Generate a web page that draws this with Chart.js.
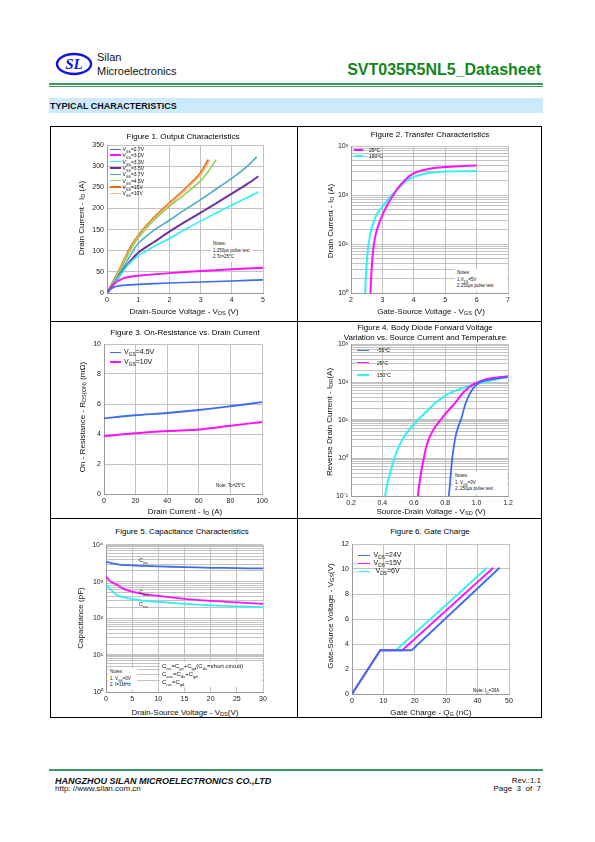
<!DOCTYPE html>
<html>
<head>
<meta charset="utf-8">
<script src="https://cdn.jsdelivr.net/npm/chart.js@4.4.1/dist/chart.umd.min.js"></script>
<style>
body{margin:0;background:#fff;font-family:"Liberation Sans",Arial,sans-serif;color:#111;}
#page{position:relative;width:595px;height:842px;overflow:hidden;background:#fff;}
.a{position:absolute;white-space:nowrap;}
canvas{position:absolute;}
.c{transform:translate(-50%,-50%);}
.ttl{font-size:8px;color:#000;}
.yt{font-size:8px;color:#111;transform:translate(-50%,-50%) rotate(-90deg);}
.xt{font-size:8px;color:#111;}
sub{font-size:70%;vertical-align:-1.5px;line-height:0;}
.note{font-size:4.5px;line-height:6.5px;background:#fff;padding:1px 2px;}
.ln{position:absolute;background:#000;}
</style>
</head>
<body>
<div id="page">
  <!-- header -->
  <svg class="a" style="left:55px;top:52px" width="40" height="25">
    <ellipse cx="19" cy="12" rx="17" ry="10" fill="none" stroke="#1010e8" stroke-width="2.4"/>
    <text x="19" y="17" text-anchor="middle" font-family="Liberation Serif" font-style="italic" font-weight="bold" font-size="15" fill="#1010e8">SL</text>
  </svg>
  <div class="a" style="left:97px;top:51px;font-size:11px">Silan</div>
  <div class="a" style="left:97px;top:65px;font-size:11px">Microelectronics</div>
  <div class="a" style="right:54px;top:61px;font-size:16px;font-weight:bold;color:#13861d">SVT035R5NL5_Datasheet</div>
  <div class="ln" style="left:49px;top:83px;width:494px;height:1.5px;background:#3a9a5e"></div>
  <div class="ln" style="left:49px;top:86px;width:494px;height:1px;background:#3a9a5e"></div>
  <div class="a" style="left:49px;top:98px;width:494px;height:15px;background:#cdeafd"></div>
  <div class="a" style="left:50px;top:101px;font-size:9px;font-weight:bold">TYPICAL CHARACTERISTICS</div>

  <!-- table -->
  <div class="a" style="left:50px;top:126px;width:490px;height:590px;border:1px solid #000"></div>
  <div class="ln" style="left:297px;top:126px;width:1px;height:591px"></div>
  <div class="ln" style="left:50px;top:321px;width:491px;height:1px"></div>
  <div class="ln" style="left:50px;top:518px;width:491px;height:1px"></div>

  <canvas id="f1"></canvas><canvas id="f2"></canvas><canvas id="f3"></canvas>
  <canvas id="f4"></canvas><canvas id="f5"></canvas><canvas id="f6"></canvas>

  <!-- titles -->
  <div class="a c ttl" style="left:183px;top:136px">Figure 1. Output Characteristics</div>
  <div class="a c ttl" style="left:430px;top:134px">Figure 2. Transfer Characteristics</div>
  <div class="a c ttl" style="left:185px;top:332px">Figure 3. On-Resistance vs. Drain Current</div>
  <div class="a c ttl" style="left:425px;top:327px">Figure 4. Body Diode Forward Voltage</div>
  <div class="a c ttl" style="left:425px;top:337px">Variation vs. Source Current and Temperature</div>
  <div class="a c ttl" style="left:182px;top:531px">Figure 5. Capacitance Characteristics</div>
  <div class="a c ttl" style="left:430px;top:531px">Figure 6. Gate Charge</div>

  <!-- axis titles -->
  <div class="a c xt" style="left:184px;top:311px">Drain-Source Voltage - V<sub>DS</sub> (V)</div>
  <div class="a yt" style="left:81px;top:218px">Drain Current - I<sub>D</sub> (A)</div>
  <div class="a c xt" style="left:431px;top:311px">Gate-Source Voltage - V<sub>GS</sub> (V)</div>
  <div class="a yt" style="left:330px;top:221px">Drain Current - I<sub>D</sub> (A)</div>
  <div class="a c xt" style="left:185px;top:511px">Drain Current - I<sub>D</sub> (A)</div>
  <div class="a yt" style="left:82px;top:417px">On - Resistance - R<sub>DS(ON)</sub> (mΩ)</div>
  <div class="a c xt" style="left:431px;top:511px">Source-Drain Voltage - V<sub>SD</sub> (V)</div>
  <div class="a yt" style="left:329px;top:422px">Reverse Drain Current - I<sub>DR</sub>(A)</div>
  <div class="a c xt" style="left:185px;top:712px">Drain-Source Voltage - V<sub>DS</sub>(V)</div>
  <div class="a yt" style="left:80px;top:618px">Capacitance (pF)</div>
  <div class="a c xt" style="left:431px;top:712px">Gate Charge - Q<sub>G</sub> (nC)</div>
  <div class="a yt" style="left:330px;top:616px">Gate-Source Voltage - V<sub>GS</sub>(V)</div>

  <!-- notes -->
  <div class="a note" style="left:211px;top:240px">Notes:<br>1.250μs pulse test<br>2.Tc=25°C</div>
  <div class="a note" style="left:455px;top:269px;width:48px">Notes:<br>1.V<sub>DS</sub>=5V<br>2.250μs pulse test</div>
  <div class="a note" style="left:214px;top:482px;background:none">Note: Tc=25°C</div>
  <div class="a note" style="left:453px;top:472px;width:50px">Notes:<br>1. V<sub>GS</sub>=0V<br>2. 250μs pulse test</div>
  <div class="a note" style="left:108px;top:668px;width:25px">Notes:<br>1. V<sub>GS</sub>=0V<br>2. f=1MHz</div>
  <div class="a" style="left:160px;top:662px;width:100px;font-size:6px;line-height:8.2px;background:#fff;padding-left:2px">C<sub>iss</sub>=C<sub>gs</sub>+C<sub>gd</sub>(C<sub>ds</sub>=short circuit)<br>C<sub>oss</sub>=C<sub>ds</sub>+C<sub>gd</sub><br>C<sub>rss</sub>=C<sub>gd</sub></div>
  <div class="a note" style="left:471px;top:687px;background:none">Note: I<sub>D</sub>=30A</div>
  <div class="a" style="left:139px;top:557px;font-size:5.5px">C<sub>iss</sub></div>
  <div class="a" style="left:139px;top:589px;font-size:5.5px">C<sub>oss</sub></div>
  <div class="a" style="left:139px;top:601px;font-size:5.5px">C<sub>rss</sub></div>

  <div id="legends"></div>

  <!-- footer -->
  <div class="ln" style="left:49px;top:769px;width:494px;height:1.5px;background:#3a9a5e"></div>
  <div class="a" style="left:55px;top:776px;font-size:9px;font-weight:bold;font-style:italic">HANGZHOU SILAN MICROELECTRONICS CO.,LTD</div>
  <div class="a" style="left:55px;top:784px;font-size:8px">http: //www.silan.com.cn</div>
  <div class="a" style="right:54px;top:776px;font-size:8px;text-align:right">Rev.:1.1</div>
  <div class="a" style="right:54px;top:784px;font-size:8px;text-align:right">Page &nbsp;3 &nbsp;of &nbsp;7</div>
</div>

<script>
// ---- Figure 1 : output characteristics  [Vds, Id]
const vgs27 = [[0,0],[0.1,8],[0.2,13],[0.3,16],[0.5,18],[1,20.5],[2,23.5],[3,26],[4,28.5],[5,31]];
const vgs30 = [[0,0],[0.1,10],[0.2,19],[0.3,26],[0.5,34],[0.7,38],[1,41],[2,47],[3,52],[4,56],[5,60]];
const vgs33 = [[0,0],[0.3,30],[0.6,60],[0.8,76],[1,88],[1.2,97],[1.5,110],[2,129],[2.5,150],[3,170],[3.5,189],[4,208],[4.5,226],[4.85,239]];
const vgs35 = [[0,0],[0.3,30],[0.6,62],[0.8,80],[1,95],[1.2,106],[1.5,120],[2,145],[2.5,168],[3,190],[3.5,212],[4,235],[4.5,258],[4.85,276]];
const vgs37 = [[0,0],[0.3,33],[0.6,70],[0.8,95],[1,117],[1.5,148],[2,172],[2.5,197],[3,221],[3.5,246],[4,271],[4.5,300],[4.8,322]];
const vgs45 = [[0,0],[0.3,38],[0.6,80],[0.8,108],[1,130],[1.5,172],[2,205],[2.5,234],[3,265],[3.25,288],[3.5,315]];
const vgs15 = [[0,0],[0.3,40],[0.6,85],[0.8,113],[1,135],[1.5,177],[2,212],[2.5,245],[3,283],[3.25,315]];
const vgs10 = [[0,0],[0.3,39],[0.6,83],[0.8,111],[1,133],[1.5,175],[2,210],[2.5,243],[3,280],[3.3,316]];
const fig1Labels = ['2.7V','3.0V','3.3V','3.5V','3.7V','4.5V','15V','10V'];

// ---- Figure 2 : transfer characteristics  [Vgs, Id]
const tr25 = [[2.62,1],[2.64,2],[2.67,4],[2.7,7],[2.75,12],[2.8,17],[2.9,27],[3,39],[3.1,53],[3.2,70],[3.35,100],[3.5,140],[3.7,195],[3.85,240],[4,277],[4.25,315],[4.5,345],[5,372],[5.5,388],[6,400]];
const tr150 = [[2.45,1],[2.47,2],[2.5,4],[2.53,7],[2.56,10],[2.6,14],[2.65,20],[2.72,28],[2.8,38],[2.9,48],[3,58],[3.1,70],[3.2,85],[3.35,108],[3.5,135],[3.7,180],[3.85,210],[4,234],[4.25,262],[4.5,280],[5,300],[5.5,305],[6,309]];

// ---- Figure 3 : on-resistance  [Id, Rds(on)]
const ron45 = [[0,5.05],[20,5.25],[40,5.4],[60,5.6],[80,5.85],[100,6.12]];
const ron10 = [[0,3.85],[20,4.05],[40,4.2],[60,4.3],[80,4.55],[100,4.8]];

// ---- Figure 4 : body diode  [Vsd, Idr]
const bdM55 = [[0.823,0.1],[0.83,0.2],[0.838,0.5],[0.845,1],[0.855,2],[0.868,4],[0.885,7],[0.9,10],[0.912,15],[0.924,23],[0.936,32],[0.95,43],[0.965,56],[0.98,70],[1.0,85],[1.02,98],[1.06,110],[1.115,120],[1.2,134]];
const bd25 = [[0.626,0.1],[0.635,0.2],[0.65,0.5],[0.664,1],[0.68,2],[0.7,3.5],[0.73,6],[0.77,10],[0.81,16],[0.86,27],[0.924,58],[0.987,90],[1.05,115],[1.12,130],[1.2,142]];
const bd150 = [[0.417,0.1],[0.43,0.2],[0.455,0.5],[0.477,1],[0.5,1.8],[0.53,3.2],[0.57,5.5],[0.626,10],[0.67,15],[0.71,22],[0.75,31],[0.8,44],[0.85,56],[0.9,67],[0.95,78],[1.0,88],[1.1,112],[1.2,140]];

// ---- Figure 5 : capacitance  [Vds, C]
const ciss = [[0,3500],[1,3200],[2,3000],[3,2880],[5,2790],[7,2700],[10,2620],[15,2500],[20,2400],[25,2350],[30,2300]];
const coss = [[0,1400],[0.5,1150],[1,980],[2,850],[3,680],[4,590],[5,537],[7,470],[10,410],[15,340],[20,300],[25,275],[30,250]];
const crss = [[0,800],[0.5,700],[1,590],[2,440],[3,390],[4,360],[5,340],[7,305],[10,282],[15,250],[20,228],[25,215],[30,205]];

// ---- Figure 6 : gate charge  [Qg, Vgs]
const qg24 = [[0,0],[9,3.5],[19,3.5],[47,10.1]];
const qg15 = [[0,0],[9,3.5],[16,3.5],[45,10.1]];
const qg6 = [[0,0],[9,3.5],[14,3.5],[43,10.1]];

const SUP = {'-':'⁻','0':'⁰','1':'¹','2':'²','3':'³','4':'⁴'};
const GRID = '#c2c2c2';
const TICKFONT = {family:'Liberation Sans', size:7};

function xy(arr){ return arr.map(p => ({x:p[0], y:p[1]})); }

function logTicks(min, max){
  const t = [];
  for (let e = Math.round(Math.log10(min)); e < Math.round(Math.log10(max)); e++)
    for (let k = 1; k < 10; k++) t.push(+(k * Math.pow(10, e)).toPrecision(3));
  t.push(max);
  return t;
}

function linAxis(min, max, step, pos){
  return {
    type:'linear', min:min, max:max, position:pos,
    ticks:{stepSize:step, font:TICKFONT, color:'#222', padding:3, autoSkip:false},
    grid:{color:GRID, drawTicks:false}, border:{color:'#9a9a9a'},
  };
}

function logAxis(min, max, thick){
  return {
    type:'logarithmic', min:min, max:max,
    afterBuildTicks: s => { s.ticks = logTicks(min, max).map(v => ({value:v})); },
    ticks:{font:TICKFONT, color:'#222', padding:3, autoSkip:false,
      callback: v => {
        const e = Math.log10(v);
        if (Math.abs(e - Math.round(e)) > 1e-6) return '';
        return '10' + String(Math.round(e)).split('').map(ch => SUP[ch]).join('');
      }},
    grid:{color:GRID, drawTicks:false,
      lineWidth: ctx => (ctx.tick && thick.indexOf(ctx.tick.value) >= 0) ? 2 : 1},
    border:{color:'#9a9a9a'},
  };
}

const PL = 34, PR = 10, PT = 8, PB = 14;

function draw(id, rect, xScale, yScale, sets){
  const [L, T, R, B] = rect;
  const cv = document.getElementById(id);
  const w = R - L + PL + PR, h = B - T + PT + PB;
  cv.width = w; cv.height = h;
  cv.style.left = (L - PL) + 'px'; cv.style.top = (T - PT) + 'px';
  cv.style.width = w + 'px'; cv.style.height = h + 'px';
  xScale.afterFit = s => { s.height = PB; };
  yScale.afterFit = s => { s.width = PL; };
  new Chart(cv.getContext('2d'), {
    type:'line',
    data:{datasets: sets.map(s => ({
      data: xy(s.d), borderColor: s.c, borderWidth: s.w || 1.6,
      pointRadius:0, fill:false, tension: s.straight ? 0 : 0.3,
    }))},
    options:{
      responsive:false, animation:false, events:[],
      layout:{padding:{left:0, right:PR, top:PT, bottom:0}},
      plugins:{legend:{display:false}, tooltip:{enabled:false}},
      scales:{x:xScale, y:yScale},
    }
  });
}

const BLUE = '#3d6cf2', MAG = '#ff10ff', CYAN = '#30f2f2';

draw('f1', [107,145,263,293], linAxis(0,5,1,'bottom'), linAxis(0,350,50,'left'), [
  {d:vgs27, c:BLUE}, {d:vgs30, c:MAG, w:2}, {d:vgs33, c:CYAN}, {d:vgs35, c:'#7030a0', w:2},
  {d:vgs37, c:'#4bacc6'}, {d:vgs45, c:'#92d050'}, {d:vgs10, c:'#f9b885'}, {d:vgs15, c:'#e46c0a', w:2.4},
]);
draw('f2', [351,146,508,293], linAxis(2,7,1,'bottom'), logAxis(1,1000,[]), [
  {d:tr25, c:MAG, w:2}, {d:tr150, c:CYAN, w:2},
]);
draw('f3', [104,344,262,494], linAxis(0,100,20,'bottom'), linAxis(0,10,2,'left'), [
  {d:ron45, c:BLUE, w:1.8}, {d:ron10, c:MAG, w:2},
]);
draw('f4', [351,344,508,496], linAxis(0.2,1.2,0.2,'bottom'), logAxis(0.1,1000,[10]), [
  {d:bdM55, c:BLUE, w:1.8}, {d:bd25, c:MAG, w:2}, {d:bd150, c:CYAN, w:2},
]);
draw('f5', [106,545,263,692], linAxis(0,30,5,'bottom'), logAxis(1,10000,[10,10000]), [
  {d:ciss, c:BLUE, w:1.8}, {d:coss, c:MAG, w:1.8}, {d:crss, c:CYAN, w:1.8},
]);
draw('f6', [352,544,509,694], linAxis(0,50,10,'bottom'), linAxis(0,12,2,'left'), [
  {d:qg24, c:BLUE, w:1.8, straight:true}, {d:qg15, c:MAG, w:1.8, straight:true}, {d:qg6, c:CYAN, w:1.8, straight:true},
]);

// legends (html so subscripts survive)
function legend(x, y, step, swW, gap, size, items){
  const box = document.getElementById('legends');
  items.forEach((it, i) => {
    const top = y + i * step;
    const sw = document.createElement('div');
    sw.className = 'a';
    sw.style.cssText = `left:${x}px;top:${top - it.w/2}px;width:${swW}px;height:${it.w}px;background:${it.c}`;
    box.appendChild(sw);
    const tx = document.createElement('div');
    tx.className = 'a';
    tx.style.cssText = `left:${x + swW + gap}px;top:${top - size*0.6}px;font-size:${size}px;line-height:${size*1.2}px;color:#111`;
    tx.innerHTML = it.t;
    box.appendChild(tx);
  });
}
const f1Cols = [BLUE, MAG, CYAN, '#7030a0', '#4bacc6', '#92d050', '#e46c0a', '#f9b885'];
const f1W = [1, 2, 1, 2, 1, 1, 2, 1];
legend(110, 149, 6.3, 11, 1.5, 5, fig1Labels.map((l, i) => ({t:'V<sub>GS</sub>=' + l, c:f1Cols[i], w:f1W[i]})));
legend(354, 150, 6, 9, 6, 5, [{t:'25°C', c:MAG, w:2}, {t:'150°C', c:CYAN, w:2}]);
legend(110, 352.5, 9.3, 11, 3, 7, [{t:'V<sub>GS</sub>=4.5V', c:BLUE, w:1}, {t:'V<sub>GS</sub>=10V', c:MAG, w:2}]);
legend(357, 350, 12.5, 12, 8, 5, [{t:'-55°C', c:BLUE, w:1}, {t:'25°C', c:MAG, w:1.5}, {t:'150°C', c:CYAN, w:2.5}]);
legend(358, 555.5, 7.9, 12, 3.5, 7, [{t:'V<sub>DS</sub>=24V', c:BLUE, w:1}, {t:'V<sub>DS</sub>=15V', c:MAG, w:1.5}, {t:'&nbsp;V<sub>DS</sub>=6V', c:CYAN, w:1}]);
</script>
</body>
</html>
